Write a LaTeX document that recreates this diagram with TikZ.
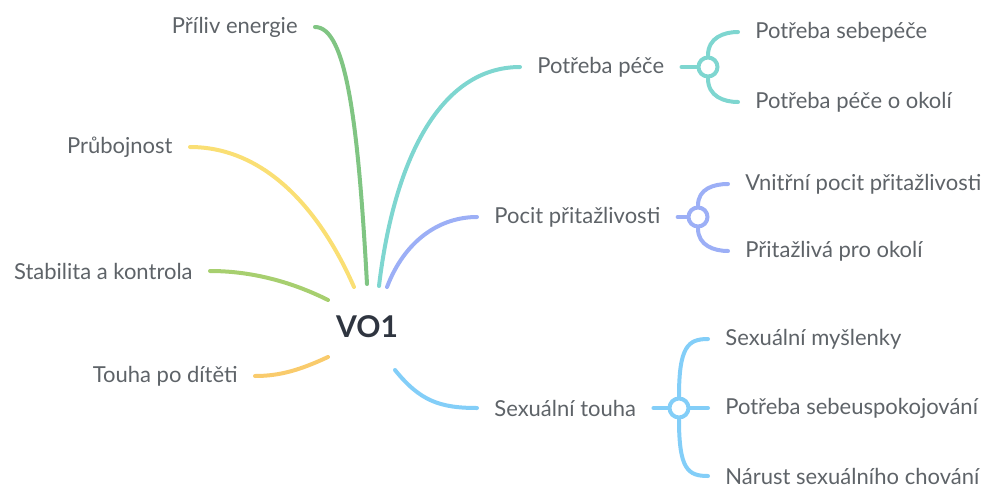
\documentclass[tikz,border=0pt]{standalone}
\usepackage{fontspec}
\setmainfont{Lato}
\usetikzlibrary{positioning}

\definecolor{cenergie}{HTML}{80C583}
\definecolor{cboj}{HTML}{FADF74}
\definecolor{cstab}{HTML}{A7CF6F}
\definecolor{ctouha}{HTML}{F9CB6C}
\definecolor{cpece}{HTML}{7ED6D0}
\definecolor{cpocit}{HTML}{9CAFF6}
\definecolor{csex}{HTML}{83CEF8}
\definecolor{textgrey}{HTML}{5E6368}
\definecolor{rootgrey}{HTML}{2F3540}

\tikzstyle{branch} = [line width=2pt, line cap=round]
\tikzstyle{leftlabel} = [anchor=east, inner xsep=8.5pt, text=textgrey, font=\fontsize{11}{13}\selectfont]
\tikzstyle{rightlabel} = [anchor=west, inner xsep=8.5pt, text=textgrey, font=\fontsize{11}{13}\selectfont]
\tikzstyle{hub} = [draw, circle, fill=white, line width=2pt, minimum size=9.5pt, inner sep=0pt]

\begin{document}
\begin{tikzpicture}[x=0.5pt, y=-0.5pt]
    \useasboundingbox (0,0) rectangle (987,488);

    \node[text=rootgrey, font=\fontsize{15}{18}\selectfont\bfseries] (root) at (367,327) {VO1};

    % start points round the root
    \coordinate (sEnergie) at (367,284);
    \coordinate (sBoj) at (354,287);
    \coordinate (sStab) at (328,300);
    \coordinate (sTouha) at (328,357);
    \coordinate (sPece) at (379,286);
    \coordinate (sPocit) at (387,287);
    \coordinate (sSex) at (395,370);

    % left side
    \node[leftlabel] (energie) at (315,27) {Příliv energie};
    \node[leftlabel] (boj) at (190,147) {Průbojnost};
    \node[leftlabel] (stab) at (210,271) {Stabilita a kontrola};
    \node[leftlabel] (touha) at (255,376) {Touha po dítěti};

    \draw[branch, cenergie] (sEnergie) .. controls (358,120) and (346,27) .. (energie.east);
    \draw[branch, cboj] (sBoj) .. controls (318,205) and (262,147) .. (boj.east);
    \draw[branch, cstab] (sStab) .. controls (290,281) and (250,271) .. (stab.east);
    \draw[branch, ctouha] (sTouha) .. controls (300,370) and (280,376) .. (touha.east);

    % right side
    \node[rightlabel] (pece) at (520,67) {Potřeba péče};
    \node[rightlabel] (pocit) at (477,217) {Pocit přitažlivosti};
    \node[rightlabel] (sex) at (477,408) {Sexuální touha};

    \draw[branch, cpece] (sPece) .. controls (394,160) and (440,67) .. (pece.west);
    \draw[branch, cpocit] (sPocit) .. controls (405,240) and (440,217) .. (pocit.west);
    \draw[branch, csex] (sSex) .. controls (420,401) and (440,408) .. (sex.west);

    % Potreba pece
    \node[hub, draw=cpece] (hubPece) at (708,67) {};
    \node[rightlabel] (sebepece) at (738,32) {Potřeba sebepéče};
    \node[rightlabel] (okoli) at (738,102) {Potřeba péče o okolí};
    \draw[branch, cpece] (pece.east) -- (hubPece.west);
    \draw[branch, cpece] (hubPece.north) .. controls +(0,-18) and +(-14,0) .. (sebepece.west);
    \draw[branch, cpece] (hubPece.south) .. controls +(0,18) and +(-14,0) .. (okoli.west);

    % Pocit pritazlivosti
    \node[hub, draw=cpocit] (hubPocit) at (698,217) {};
    \node[rightlabel] (vnitrni) at (728,184) {Vnitřní pocit přitažlivosti};
    \node[rightlabel] (pritazliva) at (728,251) {Přitažlivá pro okolí};
    \draw[branch, cpocit] (pocit.east) -- (hubPocit.west);
    \draw[branch, cpocit] (hubPocit.north) .. controls +(0,-17) and +(-14,0) .. (vnitrni.west);
    \draw[branch, cpocit] (hubPocit.south) .. controls +(0,17) and +(-14,0) .. (pritazliva.west);

    % Sexualni touha
    \node[hub, draw=csex] (hubSex) at (679,408) {};
    \node[rightlabel] (myslenky) at (708,339) {Sexuální myšlenky};
    \node[rightlabel] (uspok) at (708,408) {Potřeba sebeuspokojování};
    \node[rightlabel] (chovani) at (708,476) {Nárust sexuálního chování};
    \draw[branch, csex] (sex.east) -- (hubSex.west);
    \draw[branch, csex] (hubSex.east) -- (uspok.west);
    \draw[branch, csex] (hubSex.north) .. controls +(0,-50) and +(-20,0) .. (myslenky.west);
    \draw[branch, csex] (hubSex.south) .. controls +(0,50) and +(-20,0) .. (chovani.west);
\end{tikzpicture}
\end{document}
